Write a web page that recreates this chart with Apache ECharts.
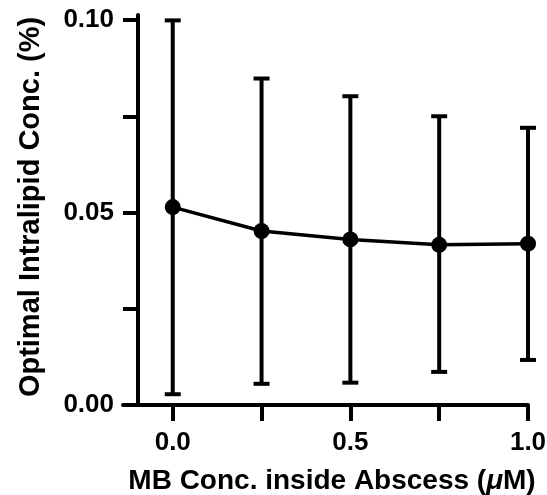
<!DOCTYPE html>
<html>
<head>
<meta charset="utf-8">
<script src="https://cdn.jsdelivr.net/npm/echarts@6/dist/echarts.min.js"></script>
<style>
  html, body { margin: 0; padding: 0; background: #fff; }
  #chart { width: 547px; height: 495px; }
</style>
</head>
<body>
<div id="chart"></div>
<script>
// MB concentration (uM)
var mbConc = [0, 0.25, 0.5, 0.75, 1.0];
// mean optimal intralipid conc (%)
var meanVal = [0.0514, 0.0452, 0.0430, 0.0416, 0.0419];
// error bar ends
var lowVal = [0.0028, 0.0055, 0.0058, 0.0086, 0.0117];
var highVal = [0.0999, 0.0848, 0.0802, 0.0750, 0.0720];
// ticks
var xTicks = [0, 0.25, 0.5, 0.75, 1.0];
var xLabels = [0, 0.5, 1.0];
var yTicks = [0, 0.025, 0.05, 0.075, 0.1];
var yLabels = [0, 0.05, 0.1];

var font = '"Liberation Sans", Arial, sans-serif';

var chart = echarts.init(document.getElementById('chart'));

var lineData = [];
var errData = [];
for (var i = 0; i < mbConc.length; i++) {
    lineData.push([mbConc[i], meanVal[i]]);
    errData.push([mbConc[i], lowVal[i], highVal[i]]);
}

//误差线
function renderErr(params, api) {
    var x = api.value(0);
    var lo = api.coord([x, api.value(1)]);
    var hi = api.coord([x, api.value(2)]);
    var hw = 8;
    var st = {stroke: '#000', lineWidth: 4};
    return {
        type: 'group',
        children: [
            {type: 'line', shape: {x1: lo[0], y1: lo[1], x2: hi[0], y2: hi[1]}, style: st},
            {type: 'line', shape: {x1: lo[0] - hw, y1: lo[1], x2: lo[0] + hw, y2: lo[1]}, style: st},
            {type: 'line', shape: {x1: hi[0] - hw, y1: hi[1], x2: hi[0] + hw, y2: hi[1]}, style: st}
        ]
    };
}

chart.setOption({
    animation: false,
    grid: {left: 123, right: 19, top: 15, bottom: 90, outerBoundsMode: 'none'},
    xAxis: {
        type: 'value',
        min: -0.14,
        max: 1.0,
        splitLine: {show: false},
        axisLine: {show: true, onZero: false, lineStyle: {color: '#000', width: 4}},
        axisTick: {show: true, length: 16, customValues: xTicks, lineStyle: {color: '#000', width: 4}},
        axisLabel: {
            customValues: xLabels,
            margin: 25,
            color: '#000',
            fontFamily: font,
            fontWeight: 'bold',
            fontSize: 26,
            formatter: function (v) { return v.toFixed(1); }
        },
        name: '{n|MB Conc. inside Abscess (}{i|μ}{n|M)}',
        nameLocation: 'middle',
        nameGap: 62,
        nameTextStyle: {
            padding: [0, 0, 0, 13],
            rich: {
                n: {fontFamily: font, fontWeight: 'bold', fontSize: 28, color: '#000'},
                i: {fontFamily: font, fontWeight: 'bold', fontStyle: 'italic', fontSize: 28, color: '#000'}
            }
        }
    },
    yAxis: {
        type: 'value',
        min: 0,
        max: 0.1013,
        offset: -15,
        splitLine: {show: false},
        axisLine: {show: true, onZero: false, lineStyle: {color: '#000', width: 4}},
        axisTick: {show: true, length: 15, customValues: yTicks, lineStyle: {color: '#000', width: 4}},
        axisLabel: {
            customValues: yLabels,
            margin: 24,
            color: '#000',
            fontFamily: font,
            fontWeight: 'bold',
            fontSize: 26,
            formatter: function (v) { return v.toFixed(2); }
        },
        name: 'Optimal Intralipid Conc. (%)',
        nameLocation: 'middle',
        nameGap: 93,
        nameTextStyle: {fontFamily: font, fontWeight: 'bold', fontSize: 29, color: '#000', padding: [0, 0, 0, 6]}
    },
    series: [
        {
            type: 'custom',
            renderItem: renderErr,
            encode: {x: 0, y: [1, 2]},
            data: errData,
            z: 2
        },
        {
            type: 'line',
            data: lineData,
            symbol: 'circle',
            symbolSize: 16,
            itemStyle: {color: '#000'},
            lineStyle: {color: '#000', width: 3.5},
            z: 3
        }
    ]
});
</script>
</body>
</html>
